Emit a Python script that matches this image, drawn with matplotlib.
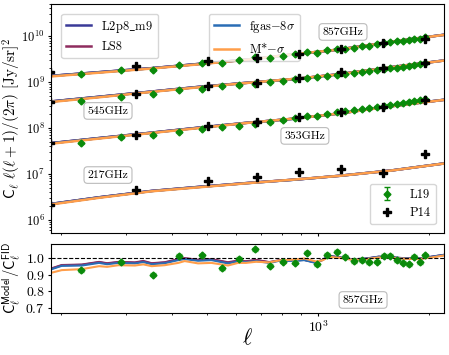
import numpy as np
import matplotlib
matplotlib.use('Agg')
import matplotlib.pyplot as plt

plt.rcParams['font.family'] = 'serif'
plt.rcParams['font.serif'] = ['cmr10']
plt.rcParams['mathtext.fontset'] = 'cm'
plt.rcParams['axes.formatter.use_mathtext'] = True
plt.rcParams['axes.unicode_minus'] = False

# model curves: fiducial spectra at a few multipoles (top panel)
ell_top = [190, 254, 353, 472, 637, 871, 1140, 1589, 2200]
fid_857 = [1.46e9, 1.68e9, 2.07e9, 2.50e9, 3.13e9, 4.11e9, 5.07e9, 7.55e9, 1.047e10]
fid_545 = [4.06e8, 4.90e8, 6.42e8, 7.92e8, 9.80e8, 1.19e9, 1.47e9, 2.11e9, 2.89e9]
fid_353 = [5.03e7, 6.19e7, 8.19e7, 1.025e8, 1.32e8, 1.63e8, 2.06e8, 2.98e8, 4.03e8]
fid_217 = [2.40e6, 3.18e6, 4.41e6, 5.27e6, 6.44e6, 7.66e6, 9.05e6, 1.19e7, 1.66e7]

# model / fiducial ratios (bottom panel)
ell_grid = [190, 201, 228, 254, 267, 287, 318, 335, 353, 383, 417, 434, 472, 513, 569, 606,
            637, 679, 737, 785, 871, 917, 986, 1027, 1071, 1140, 1239, 1346, 1462, 1589,
            1726, 1875, 2037, 2200]
r_l2p8 = [0.940, 0.958, 0.961, 0.977, 0.969, 0.977, 0.974, 0.982, 0.969, 0.975, 0.994, 1.000,
          0.990, 0.994, 0.974, 0.985, 0.981, 0.990, 0.976, 0.988, 0.988, 0.991, 0.975, 0.991,
          1.015, 1.007, 0.995, 0.999, 1.011, 1.007, 1.001, 0.999, 1.011, 1.022]
r_ls8 = [0.942, 0.960, 0.963, 0.979, 0.971, 0.979, 0.976, 0.985, 0.971, 0.977, 0.996, 1.002,
         0.992, 0.996, 0.977, 0.987, 0.983, 0.991, 0.978, 0.989, 0.989, 0.992, 0.976, 0.991,
         1.015, 1.007, 0.995, 0.998, 1.010, 1.006, 1.000, 0.998, 1.010, 1.021]
r_fgas = [0.937, 0.955, 0.957, 0.973, 0.965, 0.973, 0.970, 0.978, 0.965, 0.971, 0.990, 0.996,
          0.986, 0.990, 0.970, 0.982, 0.978, 0.984, 0.973, 0.986, 0.986, 0.990, 0.973, 0.990,
          1.014, 1.006, 0.994, 0.998, 1.010, 1.006, 1.000, 0.998, 1.010, 1.022]
r_mstar = [0.915, 0.929, 0.935, 0.953, 0.949, 0.959, 0.957, 0.964, 0.953, 0.959, 0.973, 0.984,
           0.970, 0.973, 0.957, 0.973, 0.973, 0.980, 0.976, 0.988, 0.994, 1.000, 0.982, 0.988,
           1.010, 1.004, 0.992, 0.996, 1.006, 1.003, 0.998, 0.996, 1.006, 1.018]
top_idx = [0, 3, 8, 12, 16, 20, 25, 29, 33]  # ell_top inside ell_grid

# L19 data
ell_l19 = [227, 291, 355, 419, 483, 547, 611, 675, 739, 803, 867, 931, 995, 1059, 1123,
           1187, 1251, 1315, 1379, 1443, 1507, 1571, 1635, 1699, 1763, 1827, 1891, 1955]
l19_857 = [1.47e9, 1.79e9, 1.87e9, 2.35e9, 2.59e9, 2.63e9, 3.03e9, 3.48e9, 3.40e9, 3.76e9,
           3.99e9, 4.49e9, 4.40e9, 4.89e9, 5.21e9, 5.36e9, 5.57e9, 5.95e9, 6.21e9, 6.59e9,
           7.19e9, 7.56e9, 7.70e9, 7.87e9, 8.08e9, 8.78e9, 8.79e9, 9.50e9]
l19_545 = [3.9e8, 4.85e8, 5.5e8, 6.8e8, 7.1e8, 8.2e8, 8.5e8, 9.3e8, 1.0e9, 1.07e9, 1.14e9,
           1.24e9, 1.29e9, 1.36e9, 1.44e9, 1.5e9, 1.57e9, 1.64e9, 1.72e9, 1.8e9, 1.9e9,
           1.98e9, 2.05e9, 2.13e9, 2.22e9, 2.33e9, 2.42e9, 2.62e9]
l19_353 = [4.72e7, 6.25e7, 6.9e7, 8.4e7, 9.5e7, 1.05e8, 1.12e8, 1.24e8, 1.32e8, 1.46e8,
           1.65e8, 1.79e8, 1.86e8, 2.04e8, 2.19e8, 2.3e8, 2.45e8, 2.6e8, 2.78e8, 2.92e8,
           3.05e8, 3.22e8, 3.38e8, 3.55e8, 3.72e8, 3.9e8, 4.05e8, 4.25e8]
l19_ratio_857 = [0.929, 0.978, 0.901, 1.016, 1.018, 0.941, 0.998, 1.055, 0.955, 0.980,
                 0.974, 1.036, 0.965, 1.022, 1.042, 1.010, 0.984, 0.990, 0.976, 0.980,
                 1.016, 1.016, 0.990, 0.974, 0.964, 1.010, 0.976, 1.020]
l19_ratio_err = 0.009
l19_rel_err = 0.02

# P14 data
ell_p14 = [187, 320, 502, 684, 890, 1158, 1505, 1956]
p14_857 = [1.62e9, 2.26e9, 2.9e9, 3.3e9, 4.1e9, 5.2e9, 7.0e9, 8.6e9]
p14_545 = [3.7e8, 5.6e8, 8.3e8, 9.5e8, 1.22e9, 1.62e9, 2.0e9, 2.6e9]
p14_353 = [4.8e7, 7.1e7, 1.08e8, 1.38e8, 1.73e8, 2.18e8, 2.9e8, 4.1e8]
p14_217 = [2.1e6, 4.4e6, 6.9e6, 8.7e6, 1.1e7, 1.3e7, 1.07e7, 2.75e7]

models = [('L2p8$\\_$m9', r_l2p8, '#3a3a98'),
          ('LS8', r_ls8, '#8e2c5e'),
          ('fgas$-8\\sigma$', r_fgas, '#2a6db5'),
          ('M*$-\\sigma$', r_mstar, '#ff9e4a')]

fig = plt.figure(figsize=(4.49, 3.55), dpi=100)
ax = fig.add_axes([0.1136, 0.3437, 0.8753, 0.645])
axr = fig.add_axes([0.1136, 0.1192, 0.8753, 0.1935], sharex=ax)

lines = []
for name, ratio, col in models:
    r_top = np.array(ratio)[top_idx]
    for k, fid in enumerate([fid_857, fid_545, fid_353, fid_217]):
        l, = ax.plot(ell_top, np.array(fid) * r_top, color=col, lw=1.8)
        if k == 0:
            lines.append(l)
    axr.plot(ell_grid, ratio, color=col, lw=1.5)

green = '#0a8a0a'
for vals in [l19_857, l19_545, l19_353]:
    eb = ax.errorbar(ell_l19, vals, yerr=np.array(vals) * l19_rel_err, fmt='D', color=green,
                     ms=3.5, capsize=2, elinewidth=1, zorder=5)
for vals in [p14_857, p14_545, p14_353, p14_217]:
    pp, = ax.plot(ell_p14, vals, 'P', color='black', ms=6, zorder=6)

axr.errorbar(ell_l19, l19_ratio_857, yerr=l19_ratio_err, fmt='D', color=green, ms=3.5,
             capsize=2.5, elinewidth=1, ecolor='#5cc85c', zorder=5)
axr.axhline(1.0, color='black', ls='--', lw=0.8)

ax.set_xscale('log')
ax.set_yscale('log')
ax.set_xlim(188, 2200)
ax.set_ylim(5.2e5, 5e10)
axr.set_ylim(0.67, 1.088)
axr.set_yticks([0.7, 0.8, 0.9, 1.0])
plt.setp(ax.get_xticklabels(), visible=False)
axr.xaxis.set_minor_formatter(matplotlib.ticker.NullFormatter())

for a in (ax, axr):
    a.tick_params(which='major', length=2.5, pad=2)
    a.tick_params(which='minor', length=1.5)
ax.tick_params(labelsize=9)
axr.tick_params(labelsize=10)

ax.set_ylabel(r'$\mathsf{C}_\ell\ \ell(\ell+1)/(2\pi)\ [\mathrm{Jy/sr}]^2$', fontsize=11)
axr.set_ylabel(r'$\mathsf{C}_\ell^{\mathsf{Model}}/\mathsf{C}_\ell^{\mathsf{FID}}$', fontsize=10.5)
axr.set_xlabel(r'$\ell$', fontsize=16)
ax.yaxis.set_label_coords(-0.072, 0.5)
axr.yaxis.set_label_coords(-0.072, 0.5)
axr.xaxis.set_label_coords(0.5, -0.22)

leg1 = ax.legend(lines[:2], [m[0] for m in models[:2]], loc='upper left',
                 bbox_to_anchor=(0.01, 0.985), fontsize=9)
ax.add_artist(leg1)
leg2 = ax.legend(lines[2:], [m[0] for m in models[2:]], loc='upper left',
                 bbox_to_anchor=(0.385, 0.985), fontsize=9)
ax.add_artist(leg2)
ax.legend([eb, pp], ['L19', 'P14'], loc='lower right', bbox_to_anchor=(0.995, 0.01),
          fontsize=9)

box = dict(boxstyle='round', fc='white', ec='#bbbbbb', lw=0.8)
for txt, x, y in [('857GHz', 0.743, 0.878), ('545GHz', 0.145, 0.533),
                  ('353GHz', 0.646, 0.424), ('217GHz', 0.145, 0.253)]:
    ax.text(x, y, txt, transform=ax.transAxes, ha='center', va='center', fontsize=8.5, bbox=box)
axr.text(0.794, 0.185, '857GHz', transform=axr.transAxes, ha='center', va='center',
         fontsize=8.5, bbox=box)

fig.savefig('out.png', dpi=100)
